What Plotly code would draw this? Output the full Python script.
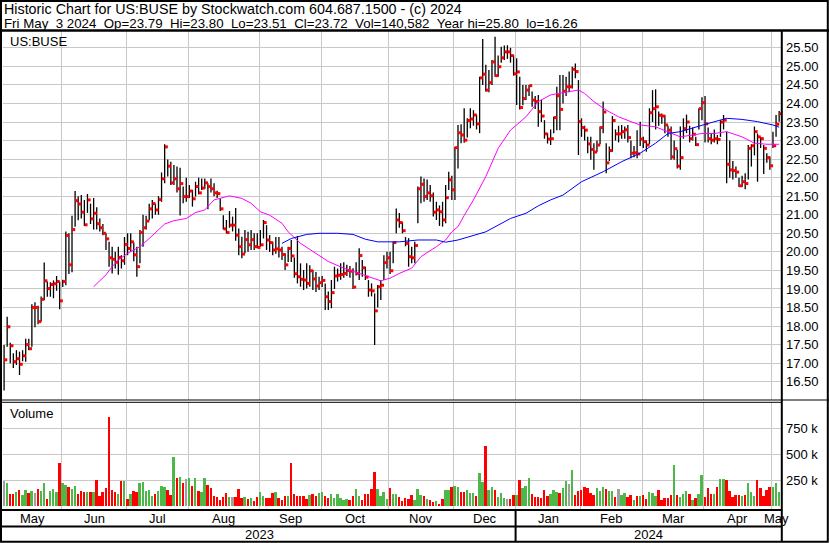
import pandas as pd
import plotly.graph_objects as go

# ---------------- data ----------------
holidays = ["2023-05-29", "2023-06-19", "2023-07-04", "2023-09-04", "2023-11-23",
            "2023-12-25", "2024-01-01", "2024-01-15", "2024-02-19", "2024-03-29"]
dates = pd.bdate_range("2023-05-04", "2024-05-03", freq="C", holidays=holidays)

close = [
    17.09, 17.98, 17.47, 17.04, 17.12, 16.97, 17.20, 17.50, 17.39, 18.50,
    18.50, 18.12, 18.72, 19.22, 19.01, 19.12, 19.14, 19.20, 18.68, 19.20,
    20.44, 19.65, 20.60, 21.38, 21.29, 21.07, 20.73, 21.40, 20.89, 21.04,
    20.76, 20.65, 20.50, 20.35, 19.84, 19.80, 19.72, 19.85, 19.76, 20.20,
    20.09, 20.27, 19.92, 19.60, 20.52, 20.65, 20.83, 21.16, 21.30, 21.13,
    21.41, 21.97, 22.83, 22.31, 21.86, 21.97, 21.70, 21.84, 21.49, 21.49,
    21.64, 21.43, 21.76, 21.59, 21.72, 21.86, 21.76, 21.70, 21.59, 21.57,
    21.16, 20.62, 20.52, 20.72, 20.72, 20.45, 20.14, 19.94, 20.33, 20.19,
    20.33, 20.14, 20.12, 20.19, 20.79, 20.32, 20.25, 20.05, 20.08, 20.05,
    19.93, 19.65, 20.09, 19.89, 19.41, 19.33, 19.26, 19.24, 19.15, 19.49,
    19.27, 19.08, 19.17, 19.23, 18.79, 18.66, 18.90, 19.35, 19.37, 19.39,
    19.42, 19.50, 19.48, 19.05, 19.42, 19.90, 19.57, 19.32, 18.97, 18.95,
    18.41, 19.06, 19.10,
    19.71, 19.84, 19.49, 20.25, 20.86, 20.79, 20.57, 20.23, 19.87, 19.84, 20.17,
    21.70, 21.82, 21.49, 21.59, 21.51, 21.07, 21.13,
    21.08, 20.86, 21.46, 21.94, 21.67, 22.81, 23.21, 23.15, 23.01, 23.54,
    23.58, 23.69, 23.45, 24.69, 24.79, 24.36, 24.56, 25.12, 24.75, 24.99, 25.23,
    25.39, 25.39, 25.29, 24.80, 24.85, 23.89, 24.13, 24.36, 24.48, 24.09,
    24.05, 23.78, 23.66, 23.18, 23.04, 23.05, 23.62, 24.21, 23.84, 24.33,
    24.45, 24.45, 24.92, 24.86, 23.51, 23.35, 23.28, 22.91, 22.76, 22.69,
    22.88, 23.35, 23.77, 22.40, 22.73, 23.54, 23.18, 23.18, 23.24, 23.29, 23.08,
    22.66, 22.67, 22.64, 23.04, 22.97, 22.88, 23.75, 23.86, 23.91, 23.68,
    23.66, 23.42, 23.28, 22.56, 22.78, 22.31, 22.54, 23.32, 23.50, 23.05,
    23.17, 22.89, 23.86, 24.02, 23.45, 23.05, 23.01, 23.05, 23.03, 23.50,
    23.55, 22.36, 22.21, 22.19, 22.15, 21.78, 21.89, 21.84, 22.79, 22.86,
    23.24, 23.10, 23.05, 22.79, 22.54, 22.32, 22.86, 23.44, 23.72,
]
high = [
    17.49, 18.25, 17.55, 17.27, 17.35, 17.31, 17.35, 17.66, 17.66, 18.59,
    18.64, 18.55, 18.80, 19.71, 19.20, 19.18, 19.23, 19.35, 19.20, 19.25,
    20.55, 20.50, 20.97, 21.64, 21.50, 21.53, 21.40, 21.56, 21.30, 21.45,
    21.20, 20.90, 20.75, 20.50, 20.27, 20.14, 20.00, 20.14, 19.91, 20.40,
    20.50, 20.50, 20.25, 20.14, 20.59, 21.00, 20.97, 21.30, 21.40, 21.30,
    21.50, 22.14, 22.90, 22.49, 22.43, 22.34, 22.30, 22.27, 21.76, 22.00,
    21.80, 21.67, 21.89, 22.00, 21.98, 21.98, 21.85, 21.98, 21.85, 21.65,
    21.44, 20.99, 20.86, 21.10, 20.95, 21.18, 20.63, 20.41, 20.59, 20.54,
    20.59, 20.50, 20.50, 20.59, 20.86, 20.72, 20.45, 20.27, 20.40, 20.40,
    20.14, 19.96, 20.14, 20.32, 19.85, 20.43, 19.69, 19.51, 19.69, 19.64,
    19.51, 19.46, 19.33, 19.35, 19.15, 18.93, 19.24, 19.60, 19.55, 19.69,
    19.72, 19.65, 19.62, 19.56, 19.72, 20.10, 19.78, 19.60, 19.24, 19.15,
    18.88, 19.11, 19.24,
    19.91, 20.00, 20.00, 20.27, 21.17, 21.05, 20.80, 20.40, 20.37, 20.14, 20.27,
    21.76, 22.03, 21.98, 21.95, 21.80, 21.60, 21.35,
    21.25, 21.35, 21.80, 22.16, 22.05, 22.83, 23.42, 23.44, 23.87, 23.60,
    23.87, 23.82, 23.70, 24.72, 25.74, 25.04, 24.90, 25.17, 25.80, 25.29, 25.53,
    25.56, 25.57, 25.50, 25.30, 25.22, 24.72, 24.50, 24.50, 24.50, 24.32,
    24.20, 24.23, 24.10, 23.55, 23.20, 23.30, 23.64, 24.45, 24.77, 24.77,
    24.72, 24.86, 24.99, 25.08, 24.63, 23.60, 23.40, 23.10, 23.10, 22.93,
    23.00, 23.38, 24.05, 22.93, 22.84, 23.66, 23.30, 23.40, 23.42, 23.38, 23.42,
    23.00, 22.85, 23.28, 23.51, 23.10, 23.00, 23.87, 24.36, 24.38, 23.78,
    23.73, 23.69, 23.40, 23.38, 23.00, 22.75, 23.38, 23.60, 23.70, 23.40,
    23.35, 23.10, 23.87, 24.17, 24.20, 23.35, 23.20, 23.30, 23.15, 23.55,
    23.69, 23.24, 23.00, 22.45, 22.30, 22.00, 22.05, 22.12, 22.88, 22.90,
    23.38, 23.19, 23.10, 22.88, 22.66, 22.57, 23.24, 23.69, 23.80,
]
low = [
    16.26, 17.44, 17.00, 16.87, 16.95, 16.68, 17.05, 17.04, 17.35, 17.44,
    17.97, 18.05, 18.12, 18.70, 18.79, 18.79, 18.75, 18.95, 18.45, 19.05,
    19.10, 19.40, 19.45, 20.68, 20.85, 20.90, 20.70, 21.05, 20.75, 20.60,
    20.60, 20.55, 20.45, 20.05, 19.60, 19.42, 19.55, 19.38, 19.55, 19.65,
    19.91, 20.00, 19.75, 19.33, 19.69, 20.14, 20.60, 20.85, 20.90, 21.00,
    21.00, 21.35, 21.85, 22.03, 21.80, 21.80, 21.60, 20.98, 21.31, 21.35,
    21.45, 21.22, 21.49, 21.55, 21.67, 21.70, 21.15, 21.60, 21.50, 21.45,
    21.10, 20.60, 20.50, 20.65, 20.55, 20.30, 19.91, 19.83, 19.96, 20.00,
    20.05, 20.05, 20.10, 20.14, 20.36, 20.05, 20.00, 19.91, 19.95, 19.85,
    19.78, 19.51, 19.73, 19.73, 19.30, 19.15, 19.06, 18.97, 19.01, 19.06,
    18.97, 18.92, 18.97, 19.05, 18.43, 18.43, 18.48, 19.00, 19.20, 19.25,
    19.30, 19.35, 19.30, 19.00, 19.36, 19.24, 19.33, 19.24, 18.79, 18.80,
    17.49, 18.50, 18.70,
    19.24, 19.55, 19.40, 19.69, 20.50, 20.65, 20.50, 20.15, 19.60, 19.69, 19.69,
    20.77, 21.31, 21.35, 21.40, 21.35, 20.95, 20.86,
    20.70, 20.68, 20.77, 21.67, 21.40, 21.40, 22.25, 22.93, 22.94, 23.08,
    23.33, 23.40, 23.30, 23.20, 24.50, 24.32, 24.30, 24.50, 24.72, 24.72, 25.10,
    25.17, 25.20, 25.10, 24.75, 23.96, 23.84, 23.95, 24.09, 24.20, 23.91,
    23.85, 23.37, 23.50, 23.05, 22.92, 22.88, 23.20, 23.28, 23.28, 24.00,
    24.20, 24.30, 24.40, 24.68, 22.61, 23.10, 23.00, 22.66, 22.48, 22.21,
    22.70, 22.90, 23.20, 22.12, 22.45, 22.70, 23.00, 22.95, 23.05, 23.05, 22.95,
    22.52, 22.55, 22.52, 22.85, 22.80, 22.70, 22.90, 23.50, 23.30, 23.40,
    23.45, 23.20, 23.10, 22.48, 22.48, 22.25, 22.21, 23.05, 23.20, 22.95,
    23.00, 22.85, 23.30, 23.55, 22.95, 22.95, 22.90, 22.95, 22.90, 23.10,
    23.30, 21.85, 22.00, 21.95, 22.00, 21.75, 21.75, 21.69, 21.95, 22.30,
    22.60, 21.89, 22.80, 22.10, 22.40, 22.21, 22.80, 23.10, 23.51,
]
volume_k = [
    243, 221, 118, 118, 134, 154, 109, 157, 131, 147, 131, 167, 147, 224, 70, 150, 167, 138, 416, 224,
    205, 186, 163, 195, 118, 144, 134, 134, 134, 134, 250, 99, 134, 176, 861, 157, 138, 118, 243, 243,
    70, 120, 147, 141, 221, 231, 150, 154, 99, 118, 147, 195, 186, 154, 112, 474, 272, 285, 224, 263,
    272, 195, 272, 147, 134, 272, 205, 173, 99, 93, 58, 93, 131, 93, 93, 93, 167, 80, 93, 70,
    80, 51, 93, 138, 103, 83, 83, 128, 138, 80, 58, 99, 99, 416, 118, 99, 99, 99, 70, 109,
    118, 99, 131, 138, 99, 80, 122, 80, 122, 80, 61, 70, 61, 99, 167, 103, 61, 118, 118, 167,
    330, 167, 99, 138, 70, 176, 118, 118, 90, 51, 80, 70, 109, 61, 167, 109,
    99, 70, 61, 42, 50, 26, 70, 157, 157, 186, 195, 186, 138, 138, 157, 128, 128, 99, 317, 231,
    580, 157, 186, 157, 90, 128, 80, 70, 70, 109, 109, 253, 176, 195, 272, 118, 90, 90, 80, 157,
    99, 118, 157, 138, 128, 176, 243, 214, 349, 109, 147, 157, 186, 176, 128, 109, 176, 147, 186, 167,
    147, 147, 90, 163, 109, 128, 90, 109, 61, 103, 103, 109, 70, 138, 128, 103, 157, 61, 80, 80,
    109, 397, 109, 90, 118, 147, 118, 61, 80, 118, 301, 90, 176, 122, 118, 186, 263, 263, 253, 147,
    90, 109, 109, 99, 109, 224, 138, 103, 253, 176, 99, 157, 186, 186, 224, 141,
]
# moving averages (bar number, value)
ma30_bar = [29, 31, 33, 35, 37, 40, 44, 47, 50, 52, 55, 59, 62, 65, 68, 73, 77, 80, 83, 86,
            90, 92, 96, 101, 105, 110, 115, 119, 122, 125, 128, 132, 135, 140, 143, 145, 147, 149,
            152, 156, 160, 164, 169, 173, 177, 183, 186, 188, 191, 195, 199, 203, 206, 211, 215,
            219, 223, 226, 230, 234, 239, 243, 247, 251]
ma30_val = [19.06, 19.22, 19.38, 19.60, 19.78, 19.96, 20.14, 20.36, 20.59, 20.75, 20.84, 20.90,
            21.06, 21.13, 21.40, 21.51, 21.44, 21.31, 21.08, 20.99, 20.77, 20.54, 20.23, 19.96,
            19.74, 19.56, 19.42, 19.29, 19.22, 19.29, 19.42, 19.56, 19.87, 20.14, 20.32, 20.54,
            20.68, 20.98, 21.40, 22.03, 22.79, 23.28, 23.64, 24.05, 24.23, 24.32, 24.36, 24.27,
            24.05, 23.82, 23.64, 23.51, 23.42, 23.37, 23.24, 23.10, 23.15, 23.19, 23.19, 23.24,
            23.10, 22.93, 22.90, 22.90]
ma90_bar = [90, 93, 98, 102, 108, 113, 117, 121, 128, 134, 140, 143, 147, 151, 156, 160, 164,
            169, 173, 177, 181, 187, 194, 200, 206, 211, 215, 219, 224, 228, 234, 239, 244, 249, 251]
ma90_val = [20.23, 20.36, 20.47, 20.50, 20.50, 20.47, 20.34, 20.27, 20.27, 20.32, 20.32, 20.26,
            20.32, 20.41, 20.54, 20.72, 20.90, 21.04, 21.24, 21.40, 21.53, 21.89, 22.16, 22.43,
            22.66, 22.93, 23.19, 23.24, 23.37, 23.46, 23.60, 23.57, 23.51, 23.42, 23.36]
price_ticks = [16.5, 17.0, 17.5, 18.0, 18.5, 19.0, 19.5, 20.0, 20.5, 21.0,
               21.5, 22.0, 22.5, 23.0, 23.5, 24.0, 24.5, 25.0, 25.5]
vol_ticks = [250000, 500000, 750000]
vol_tick_text = ["250 k", "500 k", "750 k"]
header1 = "Historic Chart for US:BUSE by Stockwatch.com 604.687.1500 - (c) 2024"
header2 = "Fri May  3 2024  Op=23.79  Hi=23.80  Lo=23.51  Cl=23.72  Vol=140,582  Year hi=25.80  lo=16.26"

# ---------------- figure ----------------
n = min(len(dates), len(close), len(high), len(low), len(volume_k))
dates = dates[:n]
idx = list(range(n))
W, H = 830, 543
FONT = "Liberation Sans, Arial, sans-serif"
X0, X1 = -0.35, n - 0.4


def py(p):
    return 1 - p / H


def pxx(p):
    return p / W


bx, by = [], []
for i in idx:
    bx += [i, i, None]
    by += [low[i], high[i], None]

vcol = []
for i in idx:
    if i == 0 or close[i] == close[i - 1]:
        vcol.append("#A0A0A0")
    elif close[i] > close[i - 1]:
        vcol.append("#4DB847")
    else:
        vcol.append("#FF0000")

fig = go.Figure()
fig.add_trace(go.Scatter(x=bx, y=by, mode="lines", line=dict(color="black", width=1.3),
                         xaxis="x", yaxis="y", hoverinfo="skip"))
fig.add_trace(go.Scatter(x=[i + 0.55 for i in idx], y=close[:n], mode="markers",
                         marker=dict(symbol="square", size=3, color="#FF0000", line=dict(width=0)),
                         xaxis="x", yaxis="y"))
fig.add_trace(go.Scatter(x=ma30_bar, y=ma30_val, mode="lines",
                         line=dict(color="#FF00FF", width=1), xaxis="x", yaxis="y"))
fig.add_trace(go.Scatter(x=ma90_bar, y=ma90_val, mode="lines",
                         line=dict(color="#0000FF", width=1), xaxis="x", yaxis="y"))
fig.add_trace(go.Bar(x=idx, y=[v * 1000 for v in volume_k[:n]], marker=dict(color=vcol, line=dict(width=0)),
                     width=0.62, xaxis="x2", yaxis="y2"))

# month boundaries
month_start = []
for i in range(1, n):
    if dates[i].month != dates[i - 1].month:
        month_start.append(i)
grid_x = [s - 0.35 for s in month_start]
bounds = [X0] + grid_x + [X1]
month_names = [dates[0].strftime("%b")] + [dates[s].strftime("%b") for s in month_start]

annotations = []
for k, name in enumerate(month_names):
    annotations.append(dict(x=(bounds[k] + bounds[k + 1]) / 2, y=py(518.5), xref="x", yref="paper",
                            text=name, showarrow=False, xanchor="center", yanchor="middle",
                            font=dict(family=FONT, size=13, color="black")))
year_split = None
for s, g in zip(month_start, grid_x):
    if dates[s].year != dates[s - 1].year:
        year_split = g
annotations.append(dict(x=(X0 + year_split) / 2, y=py(534.5), xref="x", yref="paper",
                        text=str(dates[0].year), showarrow=False, xanchor="center", yanchor="middle",
                        font=dict(family=FONT, size=13, color="black")))
annotations.append(dict(x=(year_split + X1) / 2, y=py(534.5), xref="x", yref="paper",
                        text=str(dates[-1].year), showarrow=False, xanchor="center", yanchor="middle",
                        font=dict(family=FONT, size=13, color="black")))
for txt, xp, yp, fs in [(header1, 3, 9.0, 14.3), (header2, 3, 23, 13.3),
                        ("US:BUSE", 9, 41.5, 13), ("Volume", 9, 413.5, 13)]:
    annotations.append(dict(x=pxx(xp), y=py(yp), xref="paper", yref="paper",
                            text=txt.replace(" ", "\u00a0"), showarrow=False,
                            xanchor="left", yanchor="middle", borderpad=0,
                            font=dict(family=FONT, size=fs, color="black")))


def hline(y, x0, x1, w):
    return dict(type="line", xref="paper", yref="paper", x0=pxx(x0), x1=pxx(x1), y0=py(y), y1=py(y),
                line=dict(color="black", width=w))


def vline(x, y0, y1, w):
    return dict(type="line", xref="paper", yref="paper", x0=pxx(x), x1=pxx(x), y0=py(y0), y1=py(y1),
                line=dict(color="black", width=w))


shapes = [
    dict(type="rect", xref="paper", yref="paper", x0=pxx(1), x1=pxx(827.8), y0=py(541.8), y1=py(1),
         line=dict(color="black", width=2)),
    hline(30.5, 0, 829, 2.5),
    vline(781.8, 30.5, 542, 2),
    hline(400.0, 0, 829, 1),
    hline(402.3, 0, 782, 1),
    hline(510.0, 0, 782, 2),
    hline(526.5, 0, 782, 2),
    dict(type="line", xref="x", yref="paper", x0=year_split, x1=year_split, y0=py(541.5), y1=py(510),
         line=dict(color="black", width=2)),
]

xcommon = dict(domain=[pxx(3), pxx(781)], range=[X0, X1], showticklabels=False, tickvals=grid_x,
               showgrid=True, gridcolor="#C8C8C8", gridwidth=1, zeroline=False, showline=False,
               ticks="", fixedrange=True)
fig.update_layout(
    width=W, height=H, margin=dict(l=0, r=0, t=0, b=0), autosize=False,
    paper_bgcolor="white", plot_bgcolor="white", showlegend=False, bargap=0,
    xaxis=dict(anchor="y", **xcommon),
    xaxis2=dict(anchor="y2", matches="x", **xcommon),
    yaxis=dict(domain=[py(400), py(31)], range=[16.007, 25.953], side="right", anchor="x",
               tickvals=price_ticks, ticktext=[f"{v:.2f}" for v in price_ticks],
               showgrid=True, gridcolor="#C8C8C8", gridwidth=1, zeroline=False, showline=False,
               ticks="", ticklabelstandoff=4, automargin=False,
               tickfont=dict(family=FONT, size=13, color="black")),
    yaxis2=dict(domain=[py(509.5), py(402)], range=[-31000, 1003000], side="right", anchor="x2",
                tickvals=vol_ticks, ticktext=vol_tick_text,
                showgrid=True, gridcolor="#C8C8C8", gridwidth=1, zeroline=False, showline=False,
                ticks="", ticklabelstandoff=4, automargin=False,
                tickfont=dict(family=FONT, size=13, color="black")),
    annotations=annotations, shapes=shapes,
)
fig.write_html("out.html", config={"displayModeBar": False},
               post_script="document.body.style.margin='0';document.body.style.overflow='hidden';")
